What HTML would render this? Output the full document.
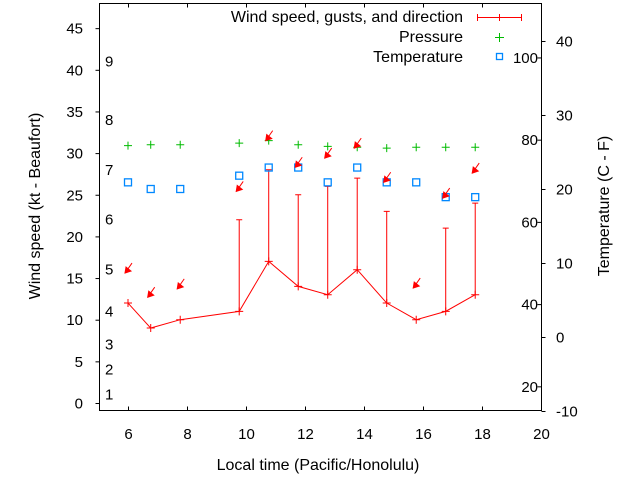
<!DOCTYPE html>
<html><head><meta charset="utf-8"><style>
body{margin:0;background:#fff}
svg{display:block;font-family:"Liberation Sans",sans-serif}
</style></head><body>
<svg id="chart" width="640" height="480" viewBox="0 0 640 480">
<g id="axes"></g><g id="marks"></g>
</svg>
<script>
const times=[6,6.77,7.77,9.77,10.77,11.77,12.77,13.77,14.77,15.77,16.77,17.77];
const wind=[12,9,10,11,17,14,13,16,12,10,11,13];
const gusts=[null,null,null,22,28,25,26,27,23,null,21,24];
const pressure=[30.9,31,31,31.2,31.5,31,30.8,30.7,30.6,30.7,30.7,30.7];
const temperature=[20.9,20,20,21.8,22.9,22.9,20.9,22.9,20.9,20.9,18.9,18.9];
const arrowPos=[15.6,12.7,13.7,25.4,31.5,28.3,29.4,30.6,26.5,13.8,24.6,27.6];
const xTicks=[6,8,10,12,14,16,18,20];
const yTicks=[0,5,10,15,20,25,30,35,40,45];
const cTicks=[-10,0,10,20,30,40];
const fTicks=[20,40,60,80,100];
const bft=[1,2,3,4,5,6,7,8,9];
const bftY=[1,4,7,11,16,22,28,34,41];
const L=99.5,R=541.5,T=3.5,B=410.5;
const X=v=>98.5+(v-5)*29.5;
const Y=v=>403-v*8.33;
const YC=c=>337-c*7.4;
const YF=f=>YC((f-32)*5/9);
const NS="http://www.w3.org/2000/svg";
const ax=document.getElementById('axes'),mk=document.getElementById('marks');
function el(p,t,a,txt){const e=document.createElementNS(NS,t);for(const k in a)e.setAttribute(k,a[k]);if(txt!=null)e.textContent=txt;p.appendChild(e);return e;}
let e=el(ax,'rect',{x:L,y:T,width:R-L,height:B-T,fill:'none',stroke:'#000'});


xTicks.forEach(v=>{const x=X(v)+0.5;el(ax,'line',{x1:x,x2:x,y1:B,y2:B-4,stroke:'#000'});el(ax,'line',{x1:x,x2:x,y1:T,y2:T+4,stroke:'#000'});
e=el(ax,'text',{x:x,y:439,'text-anchor':'middle','font-size':15},v);

});
yTicks.forEach(v=>{const y=Y(v)+0.5;el(ax,'line',{x1:L-4,x2:L,y1:y,y2:y,stroke:'#000'});
e=el(ax,'text',{x:83,y:y+5,'text-anchor':'end','font-size':15},v);

});
cTicks.forEach(v=>{const y=YC(v)+0.5;el(ax,'line',{x1:R,x2:R+4,y1:y,y2:y,stroke:'#000'});
e=el(ax,'text',{x:556,y:y+5,'font-size':15},v);

});
fTicks.forEach(v=>{const y=YF(v)+0.5;el(ax,'line',{x1:R-4,x2:R,y1:y,y2:y,stroke:'#000'});
e=el(ax,'text',{x:538,y:y+5,'text-anchor':'end','font-size':15},v);

});
bft.forEach((b,i)=>{e=el(ax,'text',{x:105,y:Y(bftY[i])+5,'font-size':15},b);

});
e=el(ax,'text',{x:0,y:0,transform:'translate(40,206) rotate(-90)','text-anchor':'middle','font-size':16},'Wind speed (kt - Beaufort)');


e=el(ax,'text',{x:0,y:0,transform:'translate(609,206) rotate(-90)','text-anchor':'middle','font-size':16},'Temperature (C - F)');


e=el(ax,'text',{x:318,y:470,'text-anchor':'middle','font-size':16},'Local time (Pacific/Honolulu)');


[['Wind speed, gusts, and direction',17],['Pressure',37],['Temperature',57]].forEach(([t,y])=>{e=el(ax,'text',{x:463,y:y+5,'text-anchor':'end','font-size':16},t);

});
el(ax,'path',{d:'M477,17.5H522M477.5,14V21M521.5,14V21M499.5,14V21',stroke:'#f00',fill:'none'});
el(ax,'path',{d:'M499.5,33V42M495,37.5H504',stroke:'#0b0',fill:'none'});
el(ax,'rect',{x:496.5,y:53.5,width:6,height:6,stroke:'#08f',fill:'none','stroke-width':1.3});
let d='';times.forEach((t,i)=>{d+=(i?'L':'M')+X(t)+','+Y(wind[i]);});
e=el(mk,'path',{d:d,stroke:'#f00',fill:'none'});


times.forEach((t,i)=>{const x=X(t),y=Y(wind[i]);
e=el(mk,'path',{d:`M${x-4},${y}H${x+4}M${x},${y-4}V${y+4}`,stroke:'#f00'});


if(gusts[i]!=null){const g=Y(gusts[i]);
e=el(mk,'path',{d:`M${x},${y}V${g}M${x-3},${g}H${x+3}`,stroke:'#f00'});

}
const p=Y(pressure[i]);
e=el(mk,'path',{d:`M${x-4},${p}H${x+4}M${x},${p-4}V${p+4}`,stroke:'#0b0'});


const c=YC(temperature[i]);
e=el(mk,'rect',{x:x-3.5,y:c-3.5,width:7,height:7,stroke:'#08f',fill:'none','stroke-width':1.3});


const a=Y(arrowPos[i]),hx=x-3;
e=el(mk,'g',{});


el(e,'line',{x1:hx,y1:a,x2:hx+7,y2:a-10,stroke:'#f00'});
el(e,'path',{d:`M${hx},${a}l1,-6l5,4z`,fill:'#f00',stroke:'#f00'});
});
</script>
</body></html>
